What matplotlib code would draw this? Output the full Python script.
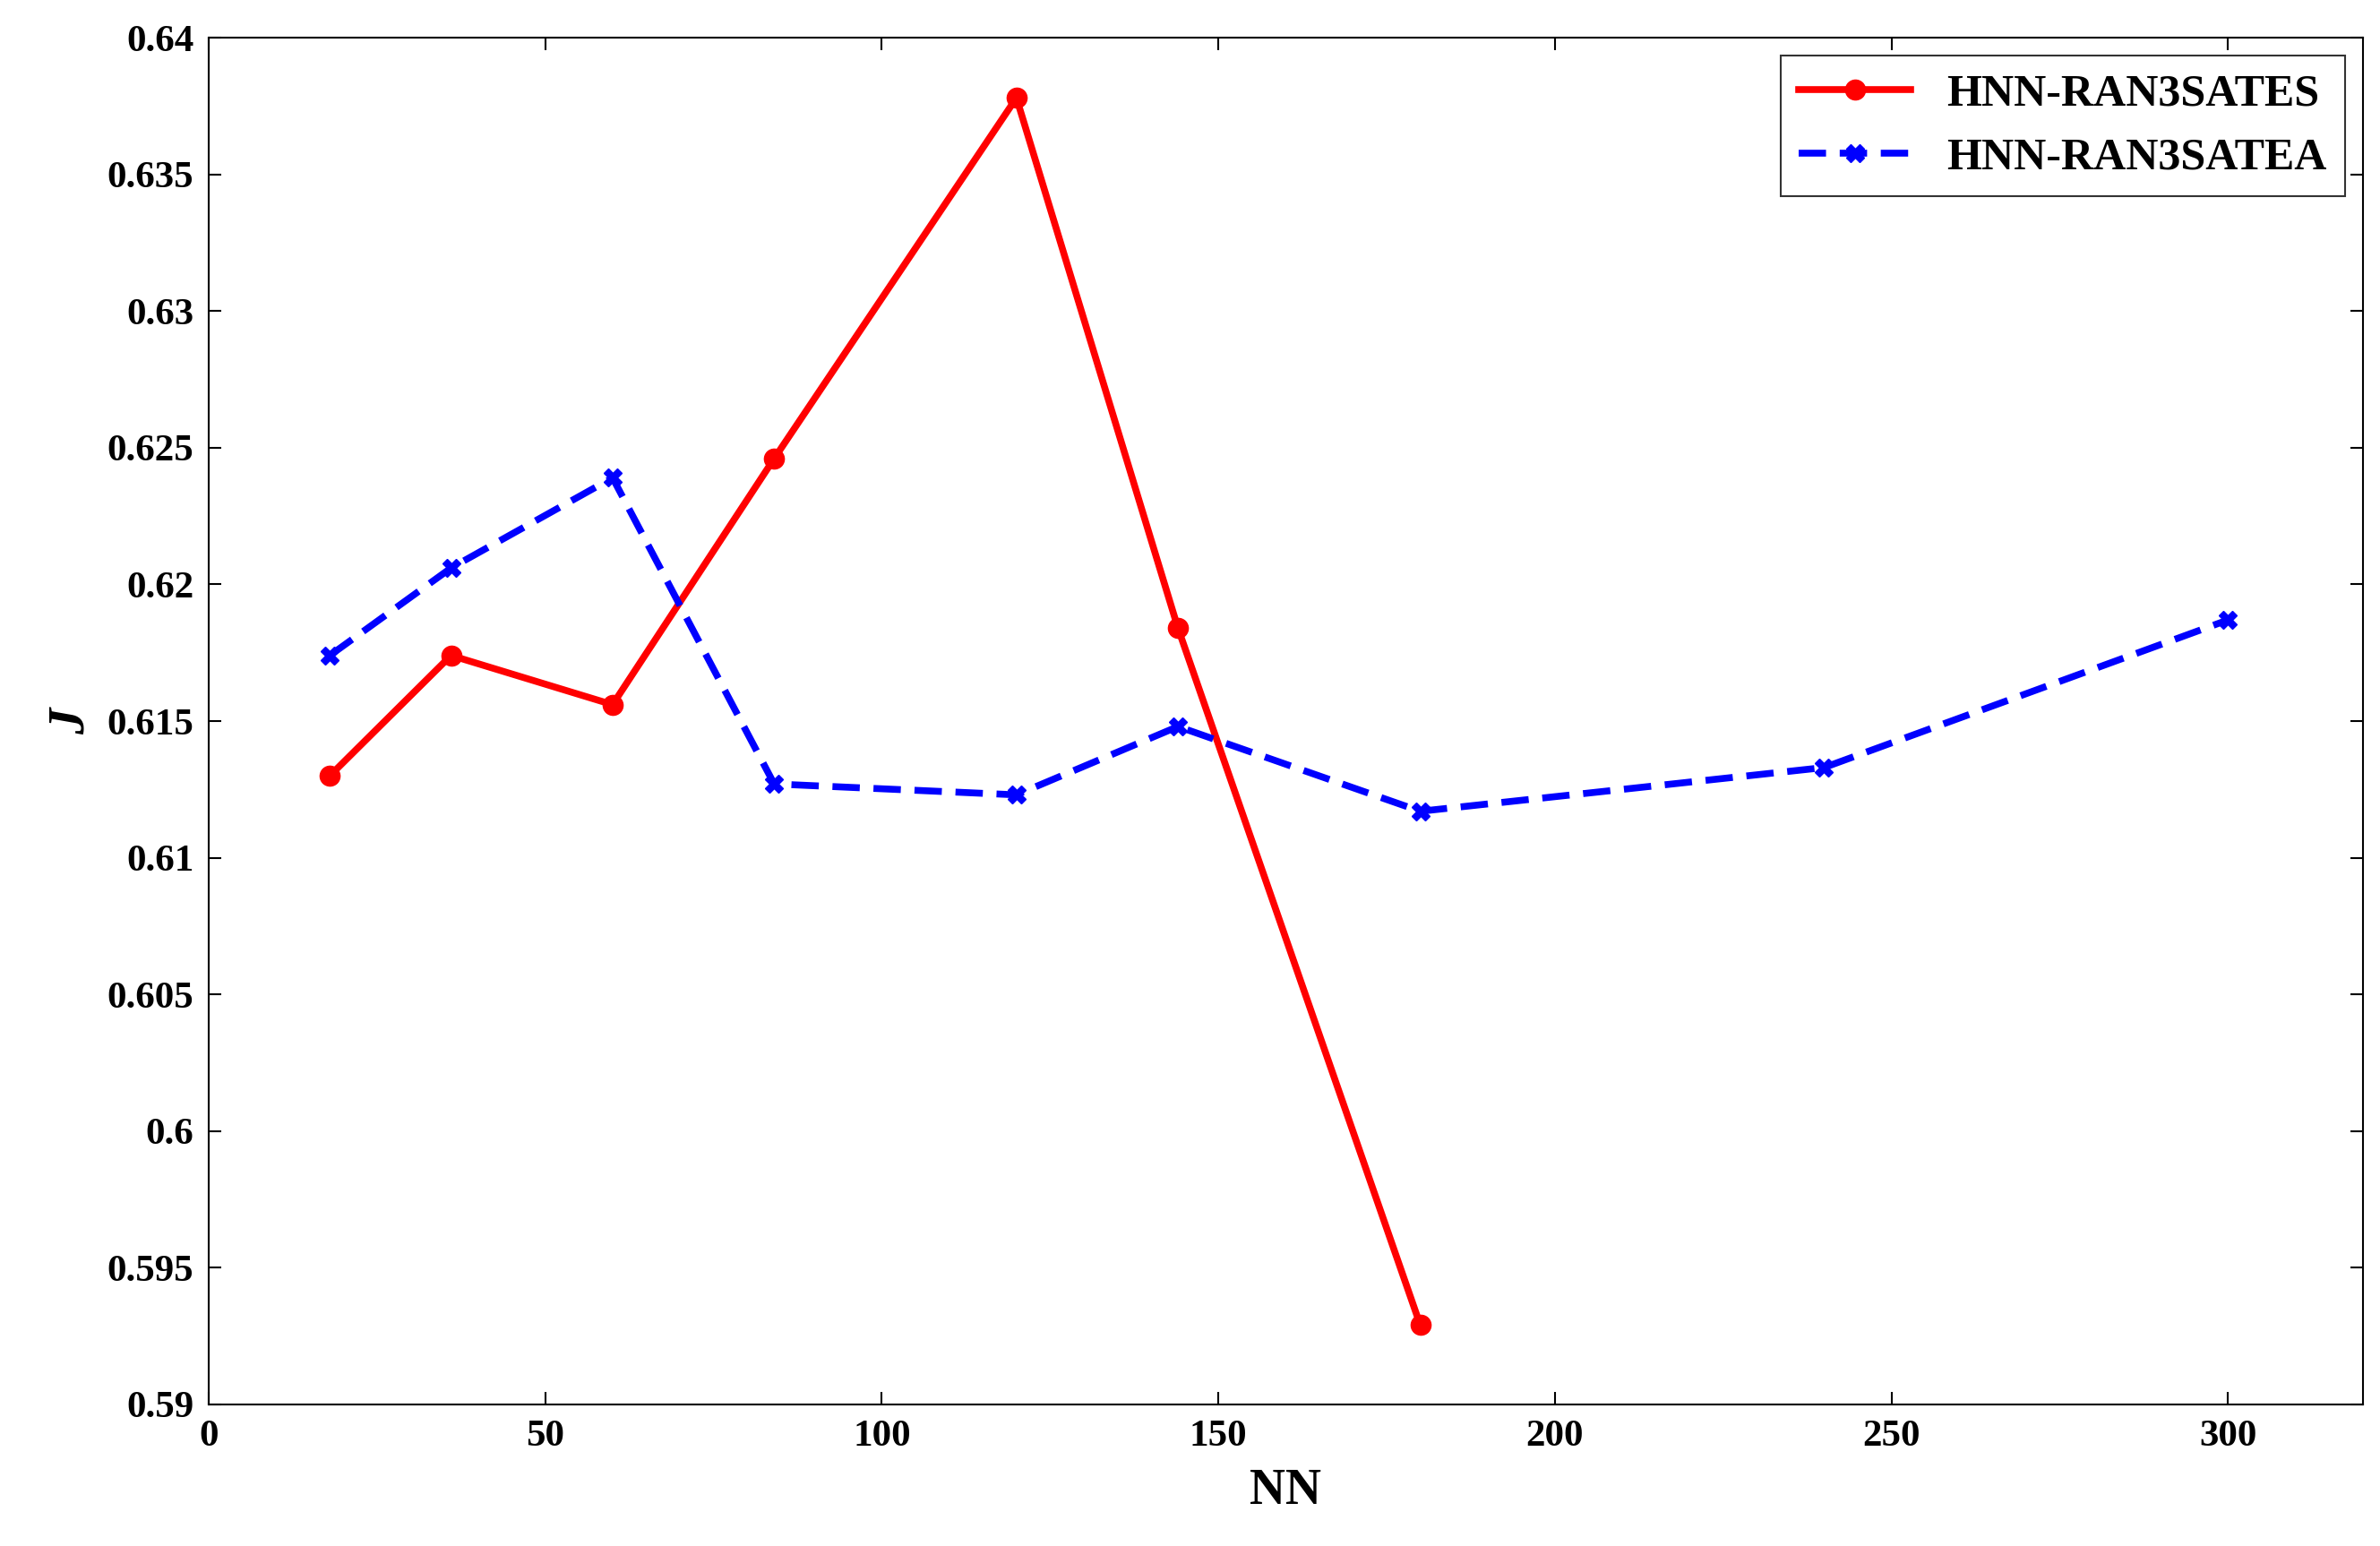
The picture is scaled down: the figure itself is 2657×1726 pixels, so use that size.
import matplotlib
matplotlib.use("Agg")
import matplotlib.pyplot as plt

plt.rcParams["font.family"] = ["Liberation Serif", "DejaVu Serif"]
plt.rcParams["font.weight"] = "bold"

# data
x_es = [18, 36, 60, 84, 120, 144, 180]
y_es = [0.6130, 0.6174, 0.6156, 0.6246, 0.6378, 0.6184, 0.5929]
x_ea = [18, 36, 60, 84, 120, 144, 180, 240, 300]
y_ea = [0.6174, 0.6206, 0.6239, 0.6127, 0.6123, 0.6148, 0.6117, 0.6133, 0.6187]

fig = plt.figure(figsize=(26.57, 17.26), dpi=100)
ax = fig.add_axes([0.0877, 0.0916, 0.905, 0.884])

ax.plot(x_es, y_es, color="red", lw=5.5, marker="o", ms=16, label="HNN-RAN3SATES")
ax.plot(x_ea, y_ea, color="blue", lw=5.5, ls=(0, (4, 2)), marker="X", ms=14,
        label="HNN-RAN3SATEA")

ax.set_xlim(0, 320)
ax.set_ylim(0.59, 0.64)
ax.set_xticks([0, 50, 100, 150, 200, 250, 300])
ax.set_yticks([0.59, 0.595, 0.6, 0.605, 0.61, 0.615, 0.62, 0.625, 0.63, 0.635, 0.64])
ax.set_yticklabels(["0.59", "0.595", "0.6", "0.605", "0.61", "0.615", "0.62",
                    "0.625", "0.63", "0.635", "0.64"])
ax.tick_params(labelsize=31, direction="in", length=10, width=1.5,
               top=True, right=True, pad=12)
for s in ax.spines.values():
    s.set_linewidth(1.5)

ax.set_xlabel("NN", fontsize=40, fontweight="bold", labelpad=12)
ax.set_ylabel("J", fontsize=42, fontweight="bold", style="italic", labelpad=10)

leg = ax.legend(loc="upper right", fontsize=36, fancybox=False, edgecolor="black",
                handlelength=2.5, borderaxespad=0.4)
leg.get_frame().set_linewidth(1.5)

fig.savefig("out.png", dpi=100)
